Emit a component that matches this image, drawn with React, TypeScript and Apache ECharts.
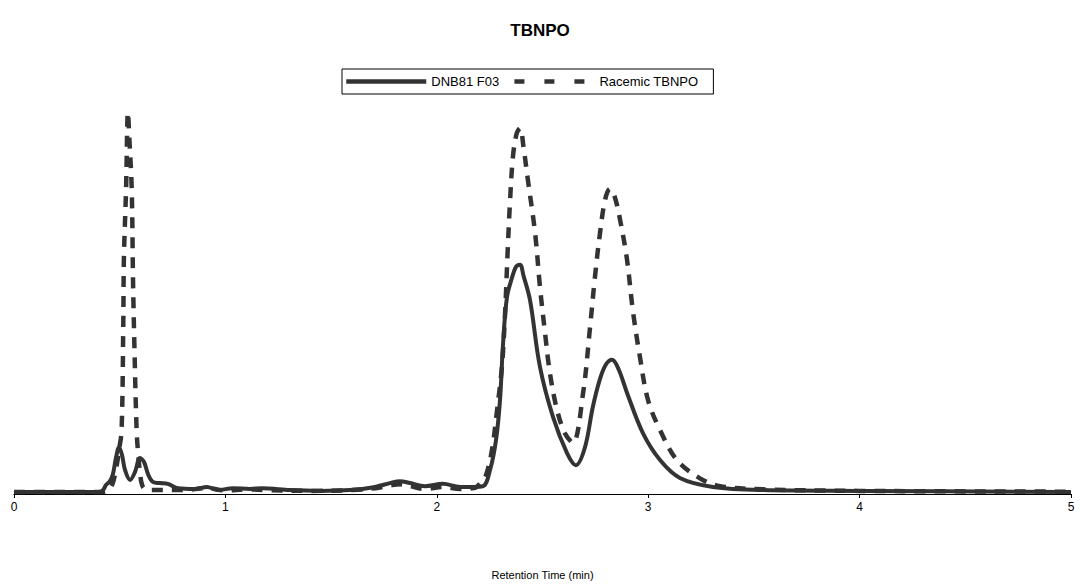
import React, { useEffect, useRef } from "react";
import * as echarts from "echarts";

const titleText = "TBNPO";
const xAxisName = "Retention Time (min)";
const seriesNames = ["DNB81 F03", "Racemic TBNPO"];

const solidTimes = [
  0, 0.4, 0.421, 0.435, 0.454, 0.468, 0.482, 0.497, 0.511, 0.525, 0.549, 0.572, 0.596, 0.615, 0.634,
  0.657, 0.69, 0.728, 0.776, 0.856, 0.913, 0.965, 1.036, 1.116, 1.173, 1.306, 1.447, 1.589, 1.708,
  1.778, 1.826, 1.873, 1.944, 2.029, 2.11, 2.167, 2.219, 2.252, 2.28, 2.299, 2.313, 2.332, 2.356,
  2.375, 2.394, 2.41, 2.441, 2.488, 2.55, 2.616, 2.658, 2.701, 2.738, 2.772, 2.8, 2.829, 2.86, 2.9,
  2.975, 3.056, 3.15, 3.306, 3.543, 4.0, 5.0,
];
const solidValues = [
  0.5, 0.5, 1.0, 2.3, 3.3, 5.1, 9.2, 12.0, 10.0, 6.2, 3.6, 5.6, 9.2, 8.2, 5.1,
  3.1, 2.8, 2.6, 1.5, 1.3, 1.8, 1.0, 1.5, 1.3, 1.5, 1.0, 0.8, 1.0, 1.8,
  2.8, 3.3, 2.8, 2.0, 2.6, 1.8, 1.8, 2.0, 6.2, 13.8, 24.1, 38.2, 50.5, 55.5,
  58.3, 58.8, 56.0, 49.7, 32.6, 19.7, 10.5, 7.4, 12.0, 22.3, 29.5, 33.2, 34.4, 32.0, 25.9,
  15.6, 8.7, 4.1, 1.8, 1.0, 0.8, 0.5,
];

const racemicTimes = [
  0, 0.4, 0.44, 0.4636, 0.482, 0.497, 0.509, 0.517, 0.52, 0.53, 0.539, 0.546, 0.557, 0.563, 0.57,
  0.58, 0.587, 0.596, 0.61, 0.643, 0.7, 0.8, 0.913, 1.0, 1.1, 1.2, 1.4, 1.6, 1.71, 1.78, 1.826,
  1.873, 1.944, 2.029, 2.11, 2.175, 2.204, 2.233, 2.261, 2.285, 2.308, 2.323, 2.335, 2.346, 2.36,
  2.378, 2.394, 2.41, 2.431, 2.465, 2.488, 2.512, 2.535, 2.569, 2.606, 2.644, 2.692, 2.725, 2.748,
  2.772, 2.796, 2.819, 2.84, 2.867, 2.9, 2.927, 2.961, 2.999, 3.056, 3.136, 3.245, 3.34, 3.543,
  4.0, 5.0,
];
const racemicValues = [
  0.5, 0.5, 0.8, 2.3, 6.2, 11.3, 16.4, 43.8, 60.8, 77.9, 97.9, 90.8, 77.9, 54.9, 36.9,
  16.4, 10.5, 5.6, 1.8, 1.0, 1.0, 1.0, 1.5, 0.9, 1.2, 1.0, 0.8, 1.0, 1.5, 2.2, 2.5,
  2.0, 1.3, 1.8, 1.3, 1.5, 2.6, 4.9, 11.3, 21.5, 32.6, 46.4, 62.0, 74.6, 86.4,
  92.5, 93.8, 89.0, 80.5, 66.9, 53.1, 41.3, 31.0, 21.5, 15.6, 13.1, 25.9, 42.8, 55.6,
  66.9, 75.4, 78.2, 76.5, 70.3, 60.0, 47.2, 35.1, 24.1, 16.4, 8.7, 4.0, 2.0, 1.2,
  0.8, 0.6,
];

const xTicks = [0, 1, 2, 3, 4, 5];

const pair = (ts: number[], vs: number[]) => ts.map((t, i) => [t, vs[i]]);

export default function App() {
  const ref = useRef<HTMLDivElement>(null);
  useEffect(() => {
    if (!ref.current) return;
    const chart = echarts.init(ref.current, null, { renderer: "svg" });
    chart.setOption({
      animation: false,
      backgroundColor: "#ffffff",
      textStyle: { fontFamily: "Arial, 'Liberation Sans', sans-serif" },
      title: {
        text: titleText,
        left: "center",
        top: 17,
        textStyle: { fontSize: 17, fontWeight: "bold", color: "#000", fontFamily: "Arial, 'Liberation Sans', sans-serif" },
      },
      legend: {
        left: 342,
        top: 69,
        orient: "horizontal",
        itemWidth: 80,
        itemHeight: 14,
        itemGap: 13,
        padding: [6, 15, 6, 2],
        borderColor: "#000",
        borderWidth: 1,
        textStyle: { fontSize: 13, color: "#000" },
        itemStyle: { color: "rgba(0,0,0,0)", borderColor: "rgba(0,0,0,0)", borderWidth: 0, opacity: 0 },
        lineStyle: { width: 4.5, color: "#333333" },
        data: [
          { name: seriesNames[0], lineStyle: { width: 4.5, type: "solid" } },
          { name: seriesNames[1], lineStyle: { width: 4.5, type: [10, 20], cap: "butt" } },
        ],
      },
      grid: { left: 14, right: 9, top: 104, bottom: 91, containLabel: false },
      xAxis: {
        type: "value",
        min: xTicks[0],
        max: xTicks[xTicks.length - 1],
        interval: 1,
        name: xAxisName,
        nameLocation: "middle",
        nameGap: 75,
        nameTextStyle: { fontSize: 11, color: "#000" },
        axisLine: { show: true, onZero: false, lineStyle: { color: "#000", width: 1 } },
        axisTick: { show: true, length: 4, lineStyle: { color: "#000" } },
        axisLabel: { fontSize: 12, color: "#000", margin: 7 },
        splitLine: { show: false },
      },
      yAxis: {
        type: "value",
        min: 0,
        max: 100,
        show: false,
        splitLine: { show: false },
      },
      series: [
        {
          name: seriesNames[0],
          type: "line",
          data: pair(solidTimes, solidValues),
          symbol: "none",
          smooth: 0.35,
          lineStyle: { color: "#333333", width: 4, type: "solid" },
          itemStyle: { color: "#333333" },
          z: 3,
        },
        {
          name: seriesNames[1],
          type: "line",
          data: pair(racemicTimes, racemicValues),
          symbol: "none",
          smooth: 0.35,
          lineStyle: { color: "#333333", width: 4.5, type: [11, 9], cap: "butt" },
          itemStyle: { color: "#333333" },
          z: 2,
        },
      ],
    });
    return () => chart.dispose();
  }, []);
  return (
    <div
      ref={ref}
      style={{ position: "fixed", left: 0, top: 0, width: 1080, height: 585, background: "#fff" }}
    />
  );
}
